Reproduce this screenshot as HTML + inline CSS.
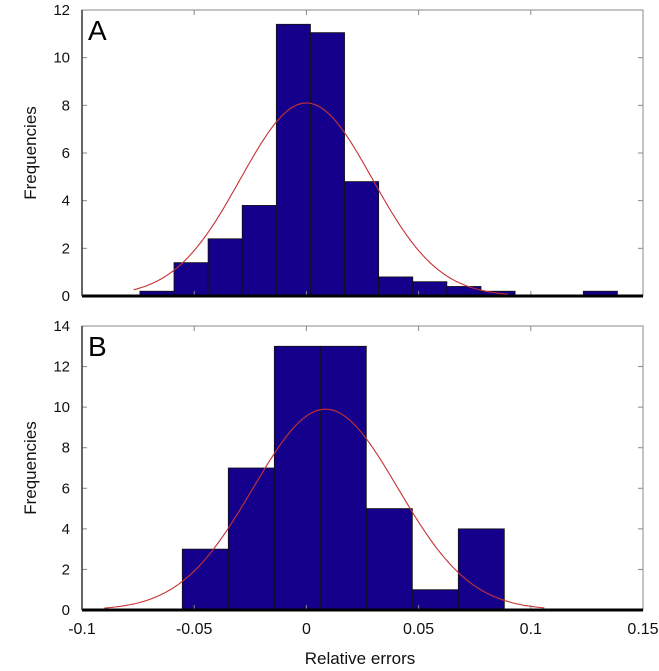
<!DOCTYPE html>
<html><head><meta charset="utf-8"><style>
body{margin:0;background:#fff;}
svg{display:block;font-family:"Liberation Sans",sans-serif;}
</style></head><body>
<svg id="chart" width="659" height="671"></svg>
<script>
const xTicks=[-0.1,-0.05,0,0.05,0.1,0.15];
const xTickLabels=["-0.1","-0.05","0","0.05","0.1","0.15"];
const aEdgeStart=-0.0742;
const aBinWidth=0.0152;
const aCounts=[0.2,1.4,2.4,3.8,11.4,11.05,4.8,0.8,0.6,0.4,0.2,0,0,0.2];
const aYTicks=[0,2,4,6,8,10,12];
const aFit=[0.0,0.0294,8.1,-0.077,0.09];
const bEdgeStart=-0.0553;
const bBinWidth=0.0205;
const bCounts=[3,7,13,13,5,1,4];
const bYTicks=[0,2,4,6,8,10,12,14];
const bFit=[0.0085,0.0323,9.9,-0.09,0.106];

const NS="http://www.w3.org/2000/svg";
const svg=document.getElementById('chart');
function mk(tag,attrs,parent){const e=document.createElementNS(NS,tag);for(const k in attrs)e.setAttribute(k,attrs[k]);(parent||svg).appendChild(e);return e;}
const X0=82,X1=643;
function xs(v){return X0+(v+0.1)/0.25*(X1-X0);}

function panel(name,top,bottom,yMax,yTicks,edgeStart,bw,counts,fit,letter,showX){
  const g=mk('g',{});
  
  
  const ys=v=>bottom-v/yMax*(bottom-top);
  const frame=mk('rect',{x:X0,y:top,width:X1-X0,height:bottom-top,fill:'none',stroke:'#888','stroke-width':1},g);
  
  
  counts.forEach((c,i)=>{
    if(c<=0)return;
    const x0=xs(edgeStart+i*bw),x1=xs(edgeStart+(i+1)*bw);
    const r=mk('rect',{x:x0,y:ys(c),width:x1-x0,height:bottom-ys(c),fill:'#14008a',stroke:'#111','stroke-width':0.8},g);
    
    
  });
  let d='';
  const [mu,sd,pk,lo,hi]=fit;
  for(let i=0;i<=200;i++){const v=lo+(hi-lo)*i/200;const y=pk*Math.exp(-0.5*((v-mu)/sd)**2);d+=(i?'L':'M')+xs(v).toFixed(1)+','+ys(y).toFixed(1);}
  const p=mk('path',{d:d,fill:'none',stroke:'#c83232','stroke-width':1.1},g);
  
  
  yTicks.forEach(t=>{
    const y=ys(t);
    mk('line',{x1:X0,x2:X0+5,y1:y,y2:y,stroke:'#888'},g);
    mk('line',{x1:X1-5,x2:X1,y1:y,y2:y,stroke:'#888'},g);
    const tx=mk('text',{x:70,y:y+5,'text-anchor':'end','font-size':15,fill:'#111'},g);
    tx.textContent=t;
    
    
  });
  xTicks.forEach(t=>{
    const x=xs(t);
    mk('line',{x1:x,x2:x,y1:top,y2:top+5,stroke:'#888'},g);
    mk('line',{x1:x,x2:x,y1:bottom,y2:bottom-5,stroke:'#888'},g);
  });
  mk('line',{x1:X0,x2:X1,y1:bottom,y2:bottom,stroke:'#000','stroke-width':3},g);
  mk('line',{x1:X0,x2:X0,y1:top,y2:bottom,stroke:'#333','stroke-width':1.5},g);
  const L=mk('text',{x:88,y:top+30,'font-size':28,fill:'#000'},g);
  L.textContent=letter;
  
  
  const yl=mk('text',{x:0,y:0,transform:`translate(36,${(top+bottom)/2}) rotate(-90)`,'text-anchor':'middle','font-size':17,fill:'#111'},g);
  yl.textContent='Frequencies';
  
  
  if(showX){
    xTicks.forEach((t,i)=>{
      const tx=mk('text',{x:xs(t),y:bottom+24,'text-anchor':'middle','font-size':16,fill:'#111'},g);
      tx.textContent=xTickLabels[i];
      
      
    });
  }
}
panel('a',10,296,12,aYTicks,aEdgeStart,aBinWidth,aCounts,aFit,'A',false);
panel('b',326,610,14,bYTicks,bEdgeStart,bBinWidth,bCounts,bFit,'B',true);
const xt=mk('text',{x:360,y:664,'text-anchor':'middle','font-size':17,fill:'#111'});
xt.textContent='Relative errors';


</script>
</body></html>
